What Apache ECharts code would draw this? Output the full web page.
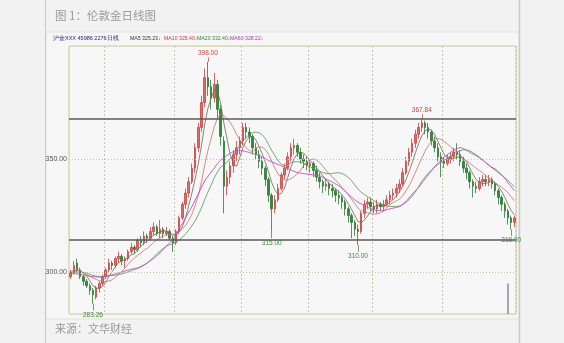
<!DOCTYPE html>
<html>
<head>
<meta charset="utf-8">
<script src="https://cdn.jsdelivr.net/npm/echarts@6/dist/echarts.min.js"></script>
<style>
html,body{margin:0;padding:0;background:#f2f2f2;}
#c{width:564px;height:343px;}
</style>
</head>
<body>
<div id="c"></div>
<script>
// ---- data ----
const priorClose = [301, 299, 297, 298, 300, 302, 301, 299, 298, 297, 299, 300, 302, 303, 301, 300, 298, 299, 301];
// [open, close, low, high]
const ohlc = [
[298,300,297,301],[300,303,299,305],[304,301,300,306],[301,298,297,302],[298,296,294,299],
[296,294,293,297],[294,292,290,295],[292,290,286,293],[289,293,288,294],[293,295,291,296],
[295,298,294,299],[298,301,297,302],[301,304,300,306],[304,303,301,305],[303,306,302,307],
[306,307,304,309],[307,305,303,308],[305,306,302,307],[306,309,305,310],[309,311,308,313],
[311,310,308,312],[310,314,309,315],[314,313,311,316],[313,316,312,318],[316,315,313,317],
[315,318,314,320],[318,320,316,322],[320,317,316,321],[317,319,315,323],[319,317,315,320],
[317,318,316,320],[318,315,314,319],[315,313,309,316],[313,318,312,319],[318,324,317,325],
[324,330,323,331],[330,335,328,337],[335,340,333,342],[340,346,339,348],[346,355,344,357],
[355,364,353,366],[364,375,362,378],[375,386,373,390],[386,382,378,393],[382,377,372,385],
[377,383,375,388],[383,372,368,385],[372,360,356,374],[358,338,326,360],[338,342,334,345],
[342,347,339,349],[347,352,344,354],[352,355,349,358],[355,358,352,360],[358,364,356,366],
[364,362,359,366],[362,360,357,364],[360,355,352,361],[355,352,350,357],[352,349,346,354],
[349,346,343,351],[346,341,338,347],[341,334,331,342],[334,328,318,335],[328,332,326,334],
[332,337,331,339],[337,343,336,344],[343,346,341,348],[346,351,345,353],[351,355,349,357],
[355,356,352,359],[356,353,351,357],[353,350,348,355],[350,349,346,352],[349,347,345,351],
[347,348,344,350],[348,345,342,349],[345,342,340,347],[342,340,337,344],[340,338,335,341],
[338,339,336,341],[339,337,334,340],[337,336,333,339],[336,334,331,337],[334,333,330,336],
[333,331,328,334],[331,328,325,332],[328,325,322,329],[325,322,315,326],[322,319,316,323],
[319,318,312,321],[318,326,317,327],[326,330,324,332],[330,331,328,333],[331,329,327,333],
[329,328,326,331],[328,330,326,332],[330,329,327,331],[329,330,327,332],[330,332,329,334],
[332,334,330,336],[334,335,332,337],[335,337,333,339],[337,339,335,341],[339,344,338,346],
[344,349,343,351],[349,353,347,355],[353,357,351,359],[357,361,355,363],[361,364,359,366],
[364,366,362,367.84],[366,364,361,367],[364,362,359,366],[362,358,356,363],[358,355,353,360],
[355,351,349,357],[351,349,342,353],[349,348,346,351],[348,350,347,352],[350,351,348,353],
[351,353,349,355],[353,352,350,357],[352,349,347,354],[349,346,344,351],[346,344,341,348],
[344,340,337,345],[340,338,333,341],[338,337,335,340],[337,340,336,342],[340,341,338,343],
[341,340,338,343],[340,341,338,343],[341,339,337,342],[339,336,334,340],[336,333,330,337],
[333,330,327,334],[330,327,324,331],[327,324,321,328],[324,322,319,325],[322,324,320,325]
];
const ma60 = [
299.6,299.4,299.2,299.0,298.7,298.5,298.2,298.0,297.9,297.8,
297.9,298.1,298.4,298.8,299.2,299.6,300.0,300.5,300.9,301.3,
301.6,301.9,302.5,303.2,304.0,305.0,306.0,307.2,308.5,310.0,
311.5,313.0,314.2,316.5,319.0,321.5,324.0,326.5,329.0,331.8,
334.5,337.5,340.3,342.3,344.2,346.0,348.0,349.5,350.6,351.6,
352.5,353.3,353.7,353.8,353.6,353.3,352.9,352.5,352.0,351.5,
350.9,350.2,349.4,348.8,348.2,347.6,347.0,346.4,345.8,345.2,
344.6,344.1,343.8,343.6,343.4,343.2,343.0,342.8,342.6,341.9,
341.2,340.5,339.8,339.0,338.2,337.0,335.8,334.5,333.2,332.0,
331.0,330.2,329.4,328.7,328.1,327.6,327.3,327.2,327.3,327.6,
328.0,328.3,328.6,329.0,330.0,331.3,332.8,334.5,336.0,337.5,
339.3,341.1,343.0,344.8,346.6,348.2,349.6,350.8,352.0,353.0,
354.0,354.6,355.0,354.6,353.9,353.0,352.2,351.5,350.6,349.6,
348.5,347.4,346.3,345.6,344.4,343.0,341.5,339.5,337.8,336.0
];
const monthStarts = [11, 33, 54, 75, 95, 117];
const gridLevels = [300, 350];
const levelLabels = ['300.00', '350.00'];
const keyLevels = [367.84, 314.5];
const highNotes = [[43, 393, '398.00'], [110, 367.84, '367.84']];
const lowNotes = [[63, 318, '315.00'], [90, 312, '310.00'], [138, 319, '318.00'], [7, 286, '283.26']];
const markerIdx = 137;
const legendTexts = ['MA5 325.23\u2193', 'MA10 325.40\u2193', 'MA20 332.40\u2193', 'MA60 328.22\u2193'];
const headerText = '沪金XXX 45986 2276日线';

const days = ohlc.map((d, i) => 'D' + (i + 1));
const closes = priorClose.concat(ohlc.map(d => d[1]));
function calcMA(n) {
  return ohlc.map((d, i) => {
    const j = i + priorClose.length;
    if (j - n + 1 < 0) return '-';
    let s = 0;
    for (let k = j - n + 1; k <= j; k++) s += closes[k];
    return +(s / n).toFixed(2);
  });
}

const chart = echarts.init(document.getElementById('c'), null, {renderer: 'canvas'});
const lineStyleDotted = {color: '#c4c79a', type: [1, 2], width: 1};
const yMin = 281.5, yMax = 400;

const markLineData = [];
gridLevels.forEach((v, k) => markLineData.push({
  yAxis: v, lineStyle: lineStyleDotted,
  label: {show: true, position: 'start', formatter: levelLabels[k], color: '#555', fontSize: 7, distance: 2}
}));
keyLevels.forEach(v => markLineData.push({
  yAxis: v, lineStyle: {color: '#5a5a5a', type: 'solid', width: 1.5}, label: {show: false}
}));
markLineData.push([
  {coord: [markerIdx, yMin], lineStyle: {color: '#8a8a9a', width: 1.5, type: 'solid'}, label: {show: false}},
  {coord: [markerIdx, 295]}
]);
lowNotes.forEach(n => markLineData.push([
  {coord: [n[0], n[1]], lineStyle: {color: '#4c8a4c', width: 0.8, type: 'solid'},
   label: {show: true, position: 'end', formatter: n[2], color: '#3a8a3a', fontSize: 6.5, distance: 1}},
  {coord: [n[0], n[1] - 3]}
]));
highNotes.forEach(n => markLineData.push([
  {coord: [n[0], n[1]], lineStyle: {color: '#c05050', width: 0.8, type: 'solid'},
   label: {show: true, position: 'end', formatter: n[2], color: '#c04848', fontSize: 6.5, distance: 1}},
  {coord: [n[0], n[1] + 2]}
]));

const legendColors = ['#333333', '#d03a3a', '#2e8b2e', '#b030b0'];
const legendX = [130, 164, 197, 230];
const narrow = 'Liberation Sans Narrow, Liberation Sans, sans-serif';

chart.setOption({
  backgroundColor: '#f2f2f2',
  animation: false,
  title: [
    {text: '图 1：伦敦金日线图', left: 50, top: 5,
     textStyle: {fontSize: 11.5, fontWeight: 'normal', color: '#9a9a9a', fontFamily: 'Noto Sans CJK SC'}},
    {text: '来源：文华财经', left: 50, top: 318,
     textStyle: {fontSize: 11, fontWeight: 'normal', color: '#9a9a9a', fontFamily: 'Noto Sans CJK SC'}}
  ],
  graphic: [
    {type: 'rect', shape: {x: 46, y: 32, width: 473, height: 287}, style: {fill: '#f6f6f6', stroke: '#e2e2e2', lineWidth: 1}, z: -10},
    {type: 'line', shape: {x1: 45.5, y1: 0, x2: 45.5, y2: 343}, style: {stroke: '#c9c9c9', lineWidth: 1}},
    {type: 'line', shape: {x1: 519.5, y1: 0, x2: 519.5, y2: 343}, style: {stroke: '#c9c9c9', lineWidth: 1.5}},
    {type: 'text', left: 53, top: 35, style: {text: headerText, fontSize: 5.5, fill: '#1c2a6e', fontFamily: narrow}},
  ].concat(legendTexts.map((t, k) => ({
    type: 'text', left: legendX[k], top: 36,
    style: {text: t, fontSize: 5.2, fill: legendColors[k], fontFamily: narrow}
  }))),
  grid: {left: 69, right: 48, top: 46, bottom: 29, show: true, borderColor: '#c6ca8e', borderWidth: 1, backgroundColor: '#f7f7f7'},
  xAxis: {
    type: 'category', data: days, boundaryGap: true,
    axisLine: {show: false}, axisTick: {show: false}, axisLabel: {show: false},
    splitLine: {show: true, interval: (i) => monthStarts.indexOf(i) >= 0, lineStyle: {color: '#c8c8b0', type: [2, 2], width: 1}}
  },
  yAxis: {
    type: 'value', min: yMin, max: yMax, scale: true,
    axisLine: {show: false}, axisTick: {show: false}, axisLabel: {show: false}, splitLine: {show: false}
  },
  series: [
    {
      name: 'K', type: 'candlestick', data: ohlc, barWidth: 2,
      itemStyle: {color: '#e46a6a', color0: '#2f8a3a', borderColor: '#d33c3c', borderColor0: '#2a7a32', borderWidth: 0.8},
      markLine: {symbol: 'none', silent: true, animation: false, data: markLineData},
      z: 3
    },
    {name: 'MA5', type: 'line', data: calcMA(5), showSymbol: false, smooth: false, lineStyle: {color: '#6a6a5a', width: 0.8}, z: 4},
    {name: 'MA10', type: 'line', data: calcMA(10), showSymbol: false, lineStyle: {color: '#c87070', width: 0.8}, z: 4},
    {name: 'MA20', type: 'line', data: calcMA(20), showSymbol: false, lineStyle: {color: '#4f9a4f', width: 0.8}, z: 4},
    {name: 'MA60', type: 'line', data: ma60, showSymbol: false, smooth: true, lineStyle: {color: '#c050c8', width: 1}, z: 4}
  ]
});
</script>
</body>
</html>
